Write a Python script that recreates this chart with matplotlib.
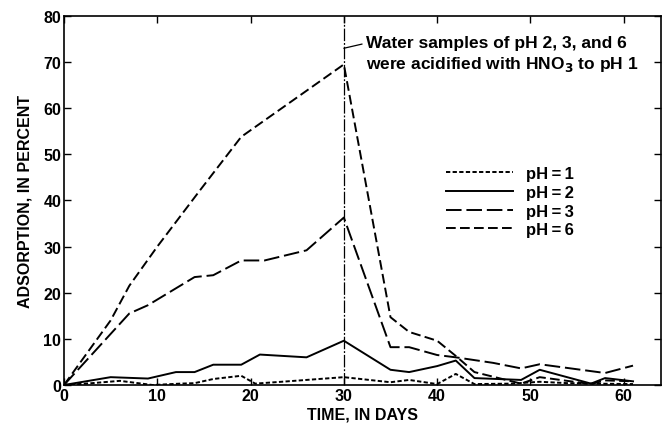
import numpy as np
import matplotlib.pyplot as plt

plt.rcParams['font.family'] = ['Liberation Sans', 'DejaVu Sans']
plt.rcParams['font.weight'] = 'bold'
plt.rcParams['axes.labelweight'] = 'bold'

# adsorption (percent) against time (days) for each pH
days_ph1 = [0, 3, 6, 9.5, 12.5, 14, 16, 19, 20.5, 24, 30, 35, 37, 40, 42, 44, 48, 51, 54, 57, 61]
ads_ph1 = [0, 0.4, 0.9, 0, 0.3, 0.4, 1.3, 2.0, 0.3, 0.8, 1.7, 0.6, 1.1, 0.2, 2.4, 0.2, 0.3, 0.7, 0.4, 0.3, 0.2]

days_ph2 = [0, 5, 9, 12, 14, 16, 19, 21, 26, 30, 35, 37, 40, 42, 44, 49, 51, 56.5, 58, 61]
ads_ph2 = [0, 1.7, 1.4, 2.8, 2.8, 4.4, 4.4, 6.6, 6.0, 9.6, 3.3, 2.8, 4.1, 5.3, 1.5, 1.1, 3.3, 0.3, 1.5, 0.8]

days_ph3 = [0, 7, 9, 14, 16, 19, 21.5, 26, 30, 35, 37, 40, 42, 46, 49, 51, 58, 61]
ads_ph3 = [0, 15.5, 17.3, 23.4, 23.8, 27, 27, 29.2, 36.3, 8.2, 8.2, 6.5, 6.0, 4.8, 3.6, 4.5, 2.6, 4.2]

days_ph6 = [0, 5, 7, 10, 14.5, 19, 30, 35, 37, 40, 42, 44, 49, 51, 56.5, 58, 61]
ads_ph6 = [0, 14, 21.5, 30, 42, 53.8, 69.5, 14.7, 11.5, 9.6, 6.3, 2.8, 0.3, 1.7, 0.2, 1.0, 0.8]

labels = ['pH\u2009=\u20091', 'pH\u2009=\u20092', 'pH\u2009=\u20093', 'pH\u2009=\u20096']
acid_day = 30

fig = plt.figure(figsize=(6.63, 4.31), dpi=100)
ax = fig.add_axes([0.0965, 0.1044, 0.9005, 0.8562])

lw = 1.4
ax.plot(days_ph1, ads_ph1, color='black', lw=lw, dashes=(2.2, 1.2), label=labels[0])
ax.plot(days_ph2, ads_ph2, color='black', lw=lw, label=labels[1])
ax.plot(days_ph3, ads_ph3, color='black', lw=lw, dashes=(8, 2.5), label=labels[2])
ax.plot(days_ph6, ads_ph6, color='black', lw=lw, dashes=(5, 2.2), label=labels[3])

ax.axvline(acid_day, color='black', lw=0.9, dashes=(10, 1.5, 1.5, 1.5))

ax.annotate('Water samples of pH 2, 3, and 6\nwere acidified with HNO$_\\mathbf{3}$ to pH 1',
            xy=(acid_day, 73.0), xytext=(32.4, 71.8), fontsize=12.5, va='center',
            ha='left', linespacing=1.3,
            arrowprops=dict(arrowstyle='-', color='black', lw=0.9,
                            shrinkA=1, shrinkB=0, relpos=(0, 0.78)))

ax.set_xlim(0, 64)
ax.set_ylim(0, 80)
ax.set_xticks(np.arange(0, 61, 10))
ax.set_yticks(np.arange(0, 81, 10))
ax.tick_params(direction='in', length=5, width=1, top=True, right=True,
               labelsize=11.5, pad=2)
for s in ax.spines.values():
    s.set_linewidth(1.2)

ax.set_xlabel('TIME, IN DAYS', fontsize=11.5, labelpad=3)
ax.set_ylabel('ADSORPTION, IN PERCENT', fontsize=11.5, labelpad=8)

ax.legend(loc='upper left', bbox_to_anchor=(0.64, 0.593), frameon=False,
          fontsize=12, handlelength=4.0, handletextpad=0.8, labelspacing=0.22,
          borderpad=0, borderaxespad=0)

fig.savefig('out.png', dpi=100)
